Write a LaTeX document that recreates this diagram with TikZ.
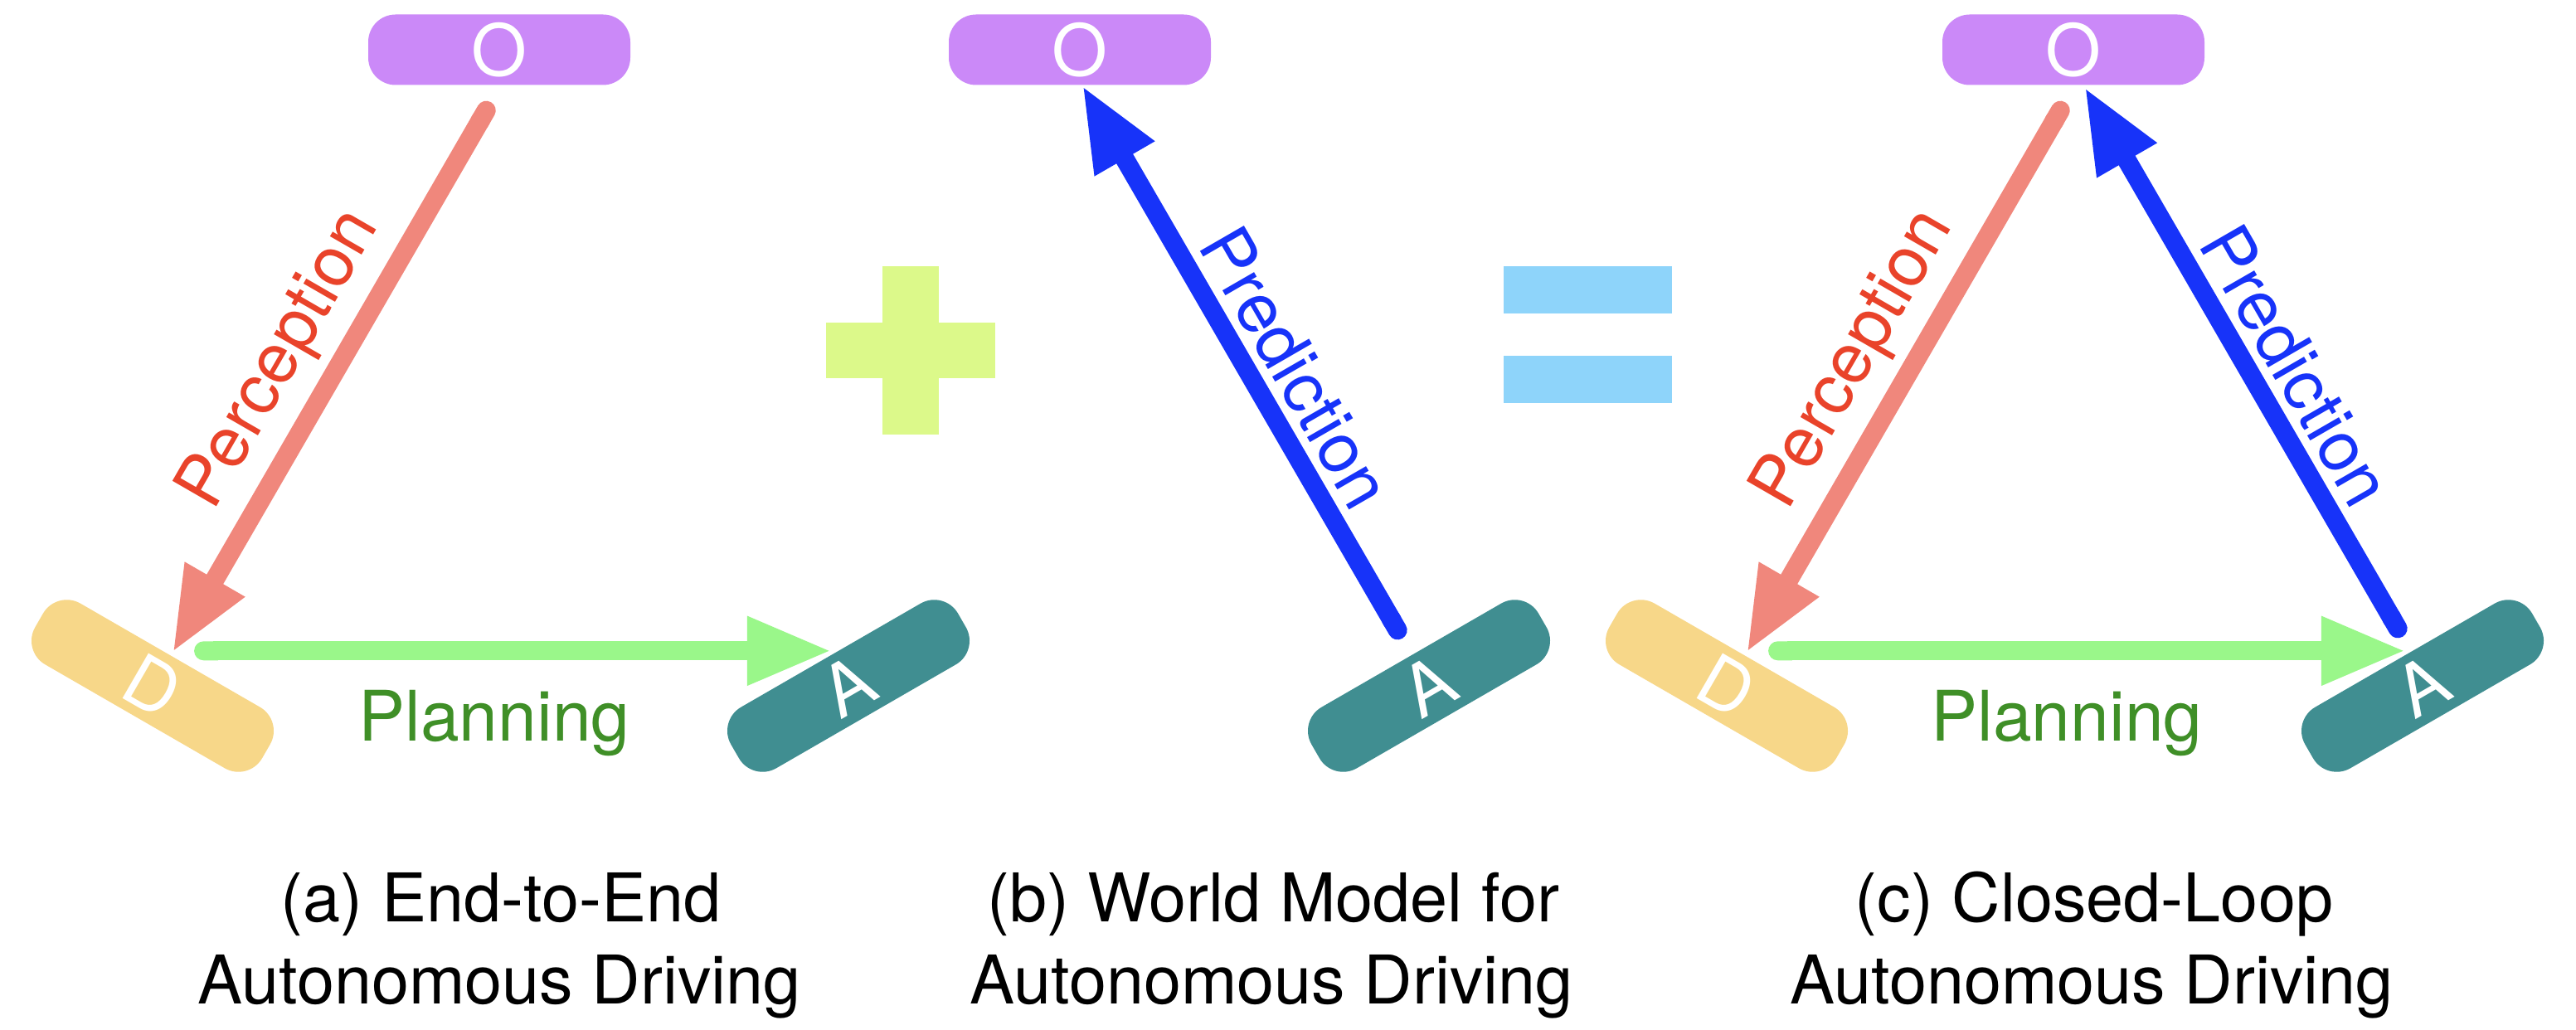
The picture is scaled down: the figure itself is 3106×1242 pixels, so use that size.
\documentclass[tikz,border=0pt]{standalone}
\usepackage{fontspec}
\setmainfont{TeX Gyre Heros}
\usetikzlibrary{arrows.meta,calc}
\definecolor{ocol}{HTML}{CB89F8}
\definecolor{dcol}{HTML}{F7D789}
\definecolor{acol}{HTML}{408E91}
\definecolor{percline}{HTML}{F0877C}
\definecolor{perctext}{HTML}{E9432A}
\definecolor{planline}{HTML}{9AF78A}
\definecolor{plantext}{HTML}{3F8F27}
\definecolor{predcol}{HTML}{1733F9}
\definecolor{pluscol}{HTML}{DCF98A}
\definecolor{eqcol}{HTML}{8ED4FA}
\tikzset{
  letterbox/.style={rectangle, rounded corners=33pt, minimum width=316pt, minimum height=85pt,
    inner sep=0pt, text=white, font=\fontsize{86}{86}\selectfont},
  obox/.style={letterbox, fill=ocol},
  dbox/.style={letterbox, fill=dcol, rotate=-30},
  abox/.style={letterbox, fill=acol, rotate=30},
  conn/.style={line width=23pt, {Round Cap[]}-{Triangle[length=102pt,width=77pt]}},
  perc/.style={conn, draw=percline},
  plan/.style={conn, draw=planline},
  pred/.style={conn, draw=predcol},
  lbl/.style={anchor=base, inner sep=0pt, font=\fontsize{84}{84}\selectfont},
  caption/.style={anchor=base, inner sep=0pt, font=\fontsize{81}{81}\selectfont, text=black},
}
\begin{document}
\begin{tikzpicture}[x=1pt,y=1pt]
\useasboundingbox[fill=white] (0,0) rectangle (3106,1242);

% ---------- panel (a)
\node[obox] (Oa) at (602,1182) {O};
\node[dbox] (Da) at (184,415) {D};
\node[abox] (Aa) at (1023,415) {A};
\draw[perc] ([shift={(-10,-20.5)}]Oa.south) -- ([shift={(2.75,3.2)}]Da.north);
\draw[plan] ([shift={(28.75,5.2)}]Da.north) -- ([shift={(1.25,5.2)}]Aa.north);
\node[lbl, rotate=60, text=perctext] (pa) at (357.5,797) {Perception};
\node[lbl, text=plantext] (la) at (596,348) {Planning};
\node[caption] (ca1) at (604,130) {(a) End-to-End};
\node[caption] (ca2) at (602,31) {Autonomous Driving};

% ---------- plus
\fill[pluscol] (996.3,785.7) rectangle (1199.7,853.3);
\fill[pluscol] (1064.3,718) rectangle (1131.7,921);

% ---------- panel (b)
\node[obox] (Ob) at (1302,1182) {O};
\node[abox] (Ab) at (1723,415) {A};
\draw[pred] ([shift={(-10.75,20.2)}]Ab.north) -- ([shift={(3,-0.5)}]Ob.south);
\node[lbl, rotate=-60, text=predcol] (pb) at (1536.7,783.7) {Prediction};
\node[caption] (cb1) at (1535,130) {(b) World Model for};
\node[caption] (cb2) at (1533,31) {Autonomous Driving};

% ---------- equals
\fill[eqcol] (1813,864) rectangle (2016.3,921);
\fill[eqcol] (1813,756.3) rectangle (2016.3,813);

% ---------- panel (c)
\node[obox] (Oc) at (2500,1182) {O};
\node[dbox] (Dc) at (2082,415) {D};
\node[abox] (Ac) at (2921,415) {A};
\draw[perc] ([shift={(-10,-20.5)}]Oc.south) -- ([shift={(2.75,3.2)}]Dc.north);
\draw[plan] ([shift={(28.75,5.2)}]Dc.north) -- ([shift={(1.25,5.2)}]Ac.north);
\draw[pred] ([shift={(-2.75,22.2)}]Ac.north) -- ([shift={(13.5,-2.5)}]Oc.south);
\node[lbl, rotate=60, text=perctext] (pc) at (2255.5,797) {Perception};
\node[lbl, rotate=-60, text=predcol] (qc) at (2742.7,786) {Prediction};
\node[lbl, text=plantext] (lc) at (2492,348) {Planning};
\node[caption] (cc1) at (2525,130) {(c) Closed-Loop};
\node[caption] (cc2) at (2522,31) {Autonomous Driving};
\end{tikzpicture}
\end{document}
